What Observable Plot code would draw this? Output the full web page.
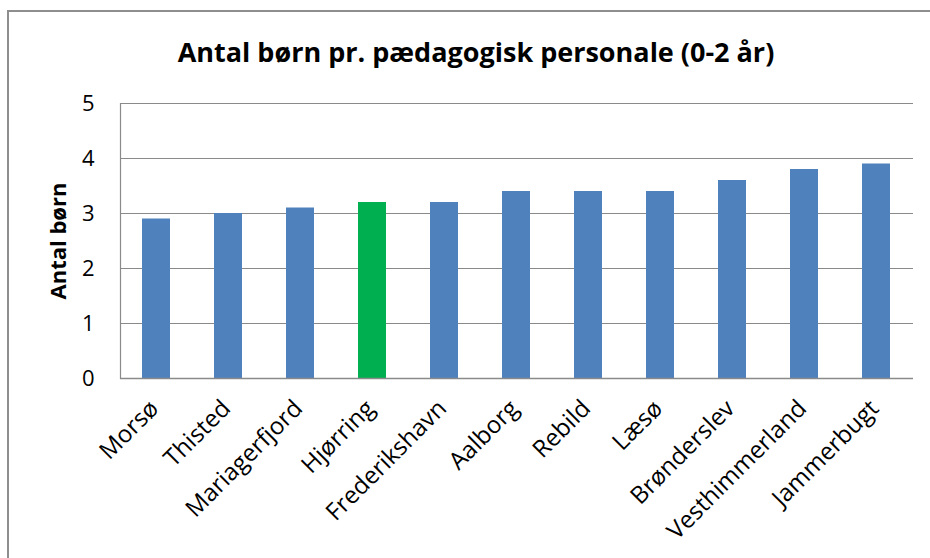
<!DOCTYPE html>
<html>
<head>
<meta charset="utf-8">
<script src="https://cdn.jsdelivr.net/npm/d3@7"></script>
<script src="https://cdn.jsdelivr.net/npm/@observablehq/plot@0.6"></script>
<style>
  html, body { margin: 0; padding: 0; background: #fff; }
  #wrap { position: relative; width: 930px; height: 558px; overflow: hidden; font-family: "Open Sans", sans-serif; }
  #frame { position: absolute; left: 7px; top: 10px; width: 940px; height: 560px; border-left: 2px solid #8e8e8e; border-top: 2px solid #8e8e8e; }
  #title { position: absolute; left: 0; top: 0; width: 952px; height: 80px; line-height: 104px; text-align: center; font-weight: bold; font-size: 27px; color: #000; }
  #chart { position: absolute; left: 0; top: 80px; }
  #chart g[aria-label="x-axis tick label"] { font-size: 24px; }
  #chart g[aria-label="y-axis tick label"] { font-size: 22px; }
</style>
</head>
<body>
<div id="wrap">
  <div id="frame"></div>
  <div id="title">Antal børn pr. pædagogisk personale (0-2 år)</div>
  <div id="chart"></div>
</div>
<script>
const categories = ["Morsø", "Thisted", "Mariagerfjord", "Hjørring", "Frederikshavn", "Aalborg", "Rebild", "Læsø", "Brønderslev", "Vesthimmerland", "Jammerbugt"];
const values = [2.9, 3.0, 3.1, 3.2, 3.2, 3.4, 3.4, 3.4, 3.6, 3.8, 3.9];
const highlight = "Hjørring";
const yTicks = [0, 1, 2, 3, 4, 5];
const yLabel = "Antal børn";

const data = categories.map((c, i) => ({category: c, value: values[i]}));

const chart = Plot.plot({
  width: 930,
  height: 478,
  marginLeft: 120,
  marginRight: 17,
  marginTop: 23,
  marginBottom: 180,
  style: {fontFamily: "'Open Sans', sans-serif", fontSize: "22px", color: "#000", background: "transparent"},
  x: {domain: categories, paddingInner: 0.61, paddingOuter: 0.305, label: null},
  y: {domain: [0, 5], label: null},
  marks: [
    Plot.ruleY(yTicks, {stroke: "#8a8a8a", strokeWidth: 1.2}),
    Plot.frame({anchor: "left", stroke: "#8a8a8a", strokeWidth: 1.2}),
    Plot.barY(data, {x: "category", y: "value", fill: d => d.category === highlight ? "#00B050" : "#4F81BD"}),
    Plot.ruleY([0], {stroke: "#8a8a8a", strokeWidth: 1.5}),
    Plot.axisY(yTicks, {tickSize: 0, tickPadding: 26, fontSize: 22, tickFormat: d3.format("d"), label: null}),
    Plot.axisX({tickSize: 0, tickPadding: 12, dx: -2, dy: 14, tickRotate: -45, fontSize: 24, label: null}),
    Plot.text([yLabel], {frameAnchor: "left", textAnchor: "middle", dx: -62, rotate: -90, fontWeight: "bold", fontSize: 22, fill: "#000"})
  ]
});
document.getElementById("chart").appendChild(chart);
</script>
</body>
</html>
